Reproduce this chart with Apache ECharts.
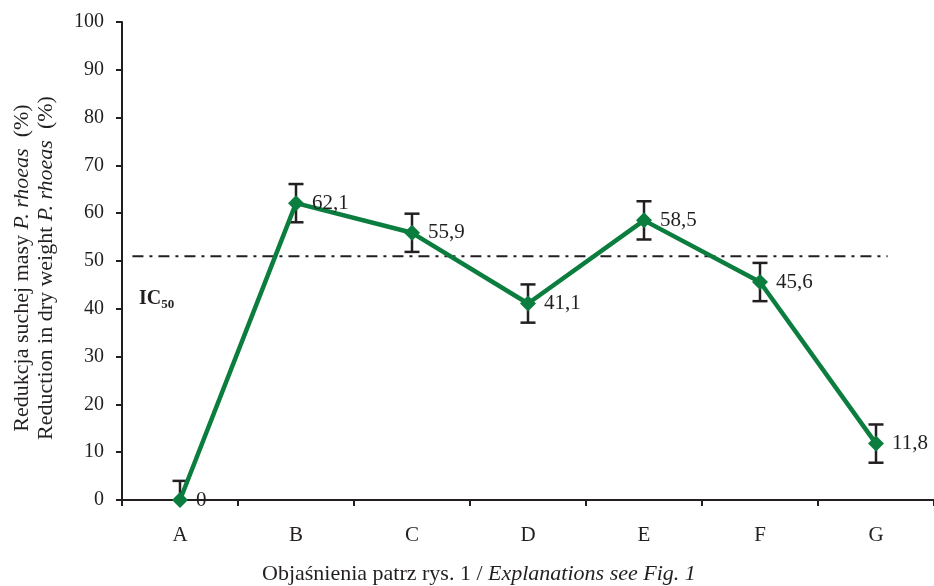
<!DOCTYPE html>
<html>
<head>
<meta charset="utf-8">
<script src="https://cdn.jsdelivr.net/npm/echarts@6/dist/echarts.min.js"></script>
<style>
  html, body { margin: 0; padding: 0; background: #fff; }
  #chart { width: 934px; height: 586px; }
</style>
</head>
<body>
<div id="chart"></div>
<script>
// Treatments on the horizontal axis
const categories = ['A', 'B', 'C', 'D', 'E', 'F', 'G'];
// Mean reduction in dry weight (%)
const reduction = [0, 62.1, 55.9, 41.1, 58.5, 45.6, 11.8];
// Half-width of the error bars (%)
const errors = [4, 4, 4, 4, 4, 4, 4];
// IC50 threshold and the horizontal extent of its reference line (category index units)
const ic50Value = 51;
const ic50Span = [-0.41, 6.1];
// Value axis ticks
const yTicks = [0, 10, 20, 30, 40, 50, 60, 70, 80, 90, 100];

const FONT = '"Liberation Serif", "Times New Roman", serif';
const TEXT = '#231f20';
const GREEN = '#0b7d3e';

const fmt = v => String(v).replace('.', ',');

const errData = reduction.map((v, i) => [i, Math.max(0, v - errors[i]), v + errors[i]]);

const chart = echarts.init(document.getElementById('chart'));
chart.setOption({
  animation: false,
  backgroundColor: '#fff',
  grid: { left: 122, right: -2, top: 22, bottom: 86, containLabel: false },
  xAxis: [{
    type: 'category',
    data: categories,
    boundaryGap: true,
    axisLine: { onZero: false, lineStyle: { color: TEXT, width: 2 } },
    axisTick: { show: true, length: 6, inside: false, alignWithLabel: false, lineStyle: { color: TEXT, width: 2 } },
    axisLabel: { color: TEXT, fontFamily: FONT, fontSize: 21, margin: 25 },
    splitLine: { show: false }
  }, {
    type: 'value',
    min: -0.5,
    max: 6.5,
    show: false
  }],
  yAxis: {
    type: 'value',
    min: yTicks[0],
    max: yTicks[yTicks.length - 1],
    interval: 10,
    axisLine: { show: true, onZero: false, lineStyle: { color: TEXT, width: 2 } },
    axisTick: { show: true, length: 6, lineStyle: { color: TEXT, width: 2 } },
    axisLabel: { color: TEXT, fontFamily: FONT, fontSize: 20, margin: 18 },
    splitLine: { show: false }
  },
  series: [{
    name: 'IC50',
    type: 'line',
    xAxisIndex: 1,
    data: [[ic50Span[0], ic50Value], [ic50Span[1], ic50Value]],
    symbol: 'none',
    lineStyle: { color: TEXT, width: 2, type: [11, 6, 3, 6] },
    silent: true,
    z: 1
  }, {
    name: 'errors',
    type: 'custom',
    xAxisIndex: 0,
    data: errData,
    renderItem: function (params, api) {
      const x = api.value(0);
      const lo = api.coord([x, api.value(1)]);
      const hi = api.coord([x, api.value(2)]);
      const cap = 7.5;
      const style = { stroke: TEXT, lineWidth: 2.5 };
      const children = [
        { type: 'line', shape: { x1: lo[0], y1: lo[1], x2: hi[0], y2: hi[1] }, style },
        { type: 'line', shape: { x1: hi[0] - cap, y1: hi[1], x2: hi[0] + cap, y2: hi[1] }, style }
      ];
      if (api.value(1) > 0) {
        children.push({ type: 'line', shape: { x1: lo[0] - cap, y1: lo[1], x2: lo[0] + cap, y2: lo[1] }, style });
      }
      return { type: 'group', children };
    },
    z: 2
  }, {
    name: 'reduction',
    type: 'line',
    xAxisIndex: 0,
    data: reduction,
    symbol: 'diamond',
    symbolSize: 16,
    lineStyle: { color: GREEN, width: 4.5 },
    itemStyle: { color: GREEN },
    label: {
      show: true,
      position: 'right',
      distance: 8,
      color: TEXT,
      fontFamily: FONT,
      fontSize: 21,
      formatter: p => fmt(p.value)
    },
    z: 3
  }],
  graphic: [{
    // vertical axis title, two lines
    type: 'text',
    x: 34,
    y: 268,
    rotation: Math.PI / 2,
    style: {
      text: 'Redukcja suchej masy {i|P. rhoeas}  (%)\nReduction in dry weight {i|P. rhoeas}  (%)',
      fontFamily: FONT,
      fontSize: 22,
      lineHeight: 24,
      fill: TEXT,
      align: 'center',
      verticalAlign: 'middle',
      rich: { i: { fontFamily: FONT, fontStyle: 'italic', fontSize: 22, lineHeight: 24, fill: TEXT } }
    }
  }, {
    type: 'text',
    left: 139,
    top: 289,
    style: {
      text: '{b|IC}{s|50}',
      rich: {
        b: { fontFamily: FONT, fontWeight: 'bold', fontSize: 20, fill: TEXT, verticalAlign: 'bottom' },
        s: { fontFamily: FONT, fontWeight: 'bold', fontSize: 13, fill: TEXT, verticalAlign: 'bottom', padding: [0, 0, -2, 0] }
      }
    }
  }, {
    type: 'text',
    left: 262,
    top: 563,
    style: {
      text: 'Objaśnienia patrz rys. 1 / {i|Explanations see Fig. 1}',
      fontFamily: FONT,
      fontSize: 22,
      fill: TEXT,
      rich: { i: { fontFamily: FONT, fontStyle: 'italic', fontSize: 22, fill: TEXT } }
    }
  }]
});
</script>
</body>
</html>
